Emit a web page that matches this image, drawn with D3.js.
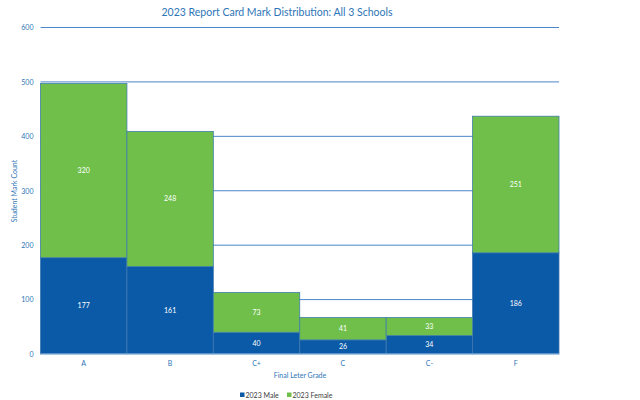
<!DOCTYPE html>
<html><head><meta charset="utf-8">
<script src="https://cdn.jsdelivr.net/npm/d3@7"></script>
<style>body{margin:0;background:#fff}svg{display:block}text{font-family:Lato,"Open Sans",sans-serif}</style>
</head><body><svg id="c" width="640" height="400"></svg>
<script>
const categories = ["A","B","C+","C","C-","F"];
const male = [177,161,40,26,34,186];
const female = [320,248,73,41,33,251];
const seriesNames = ["2023 Male","2023 Female"];
const yTicks = [0,100,200,300,400,500,600];

const svg = d3.select("#c");
const pL = 40.5, pR = 559, pT = 27.5, pB = 354;
const txt = "#2e75b6";
const cMale = "#0b5aa8", cFem = "#70bf4b";

const x = d3.scaleBand().domain(categories).range([pL, pR]).padding(0);
const y = d3.scaleLinear().domain([0,600]).range([pB, pT]);

// gridlines
svg.append("g").selectAll("line").data(yTicks.filter(d=>d>0)).join("line")
  .attr("x1", pL).attr("x2", pR)
  .attr("y1", d=>y(d)).attr("y2", d=>y(d))
  .attr("stroke", "#4a86c8").attr("stroke-width", 1);

// y axis labels
const yAxis = d3.axisLeft(y).tickValues(yTicks).tickSize(0).tickPadding(7);
const ya = svg.append("g").attr("transform", `translate(${pL},0)`).call(yAxis);
ya.select(".domain").remove();
ya.selectAll("text").attr("fill", txt).style("font-size","7px").style("font-family","Lato,sans-serif");

// bars
const data = categories.map((c,i)=>({c, m:male[i], f:female[i]}));
const g = svg.append("g");
g.selectAll("rect.m").data(data).join("rect").attr("class","m")
  .attr("x", d=>x(d.c)).attr("width", x.bandwidth())
  .attr("y", d=>y(d.m)).attr("height", d=>y(0)-y(d.m))
  .attr("fill", cMale).attr("stroke","#3f77b0").attr("stroke-width",0.8);
g.selectAll("rect.f").data(data).join("rect").attr("class","f")
  .attr("x", d=>x(d.c)).attr("width", x.bandwidth())
  .attr("y", d=>y(d.m+d.f)).attr("height", d=>y(d.m)-y(d.m+d.f))
  .attr("fill", cFem).attr("stroke","#3f7fa8").attr("stroke-width",0.8);

// value labels
g.selectAll("text.ml").data(data).join("text").attr("class","ml")
  .attr("x", d=>x(d.c)+x.bandwidth()/2).attr("y", d=>y(d.m/2))
  .attr("dy","0.35em").attr("text-anchor","middle").attr("fill","#fff")
  .style("font-size","7px").text(d=>d.m);
g.selectAll("text.fl").data(data).join("text").attr("class","fl")
  .attr("x", d=>x(d.c)+x.bandwidth()/2).attr("y", d=>y(d.m+d.f/2))
  .attr("dy","0.35em").attr("text-anchor","middle").attr("fill","#fff")
  .style("font-size","7px").text(d=>d.f);

// baseline
svg.append("line").attr("x1",pL).attr("x2",pR).attr("y1",pB).attr("y2",pB)
  .attr("stroke","#9dc3e6").attr("stroke-width",1);

// x axis
const xAxis = d3.axisBottom(x).tickSize(0).tickPadding(7);
const xa = svg.append("g").attr("transform", `translate(0,${pB})`).call(xAxis);
xa.select(".domain").remove();
xa.selectAll("text").attr("fill", txt).style("font-size","7px").style("font-family","Lato,sans-serif");

// titles
svg.append("text").attr("x", 277).attr("y", 16).attr("text-anchor","middle")
  .attr("fill", txt).style("font-size","10.5px").text("2023 Report Card Mark Distribution: All 3 Schools");
svg.append("text").attr("x", 300).attr("y", 378).attr("text-anchor","middle")
  .attr("fill", txt).style("font-size","7px").text("Final Leter Grade");
svg.append("text").attr("transform","translate(17,191) rotate(-90)").attr("text-anchor","middle")
  .attr("fill", txt).style("font-size","7px").text("Student Mark Count");

// legend
const leg = svg.append("g").attr("transform","translate(240,396)");
const items = [{n:seriesNames[0], c:cMale, x:0},{n:seriesNames[1], c:cFem, x:47}];
items.forEach(it=>{
  leg.append("rect").attr("x", it.x).attr("y",-3.5).attr("width",4.5).attr("height",4.5).attr("fill",it.c);
  leg.append("text").attr("x", it.x+5.5).attr("y",0).attr("dy","0.3em").attr("fill","#404040")
    .style("font-size","7px").text(it.n);
});
</script></body></html>
